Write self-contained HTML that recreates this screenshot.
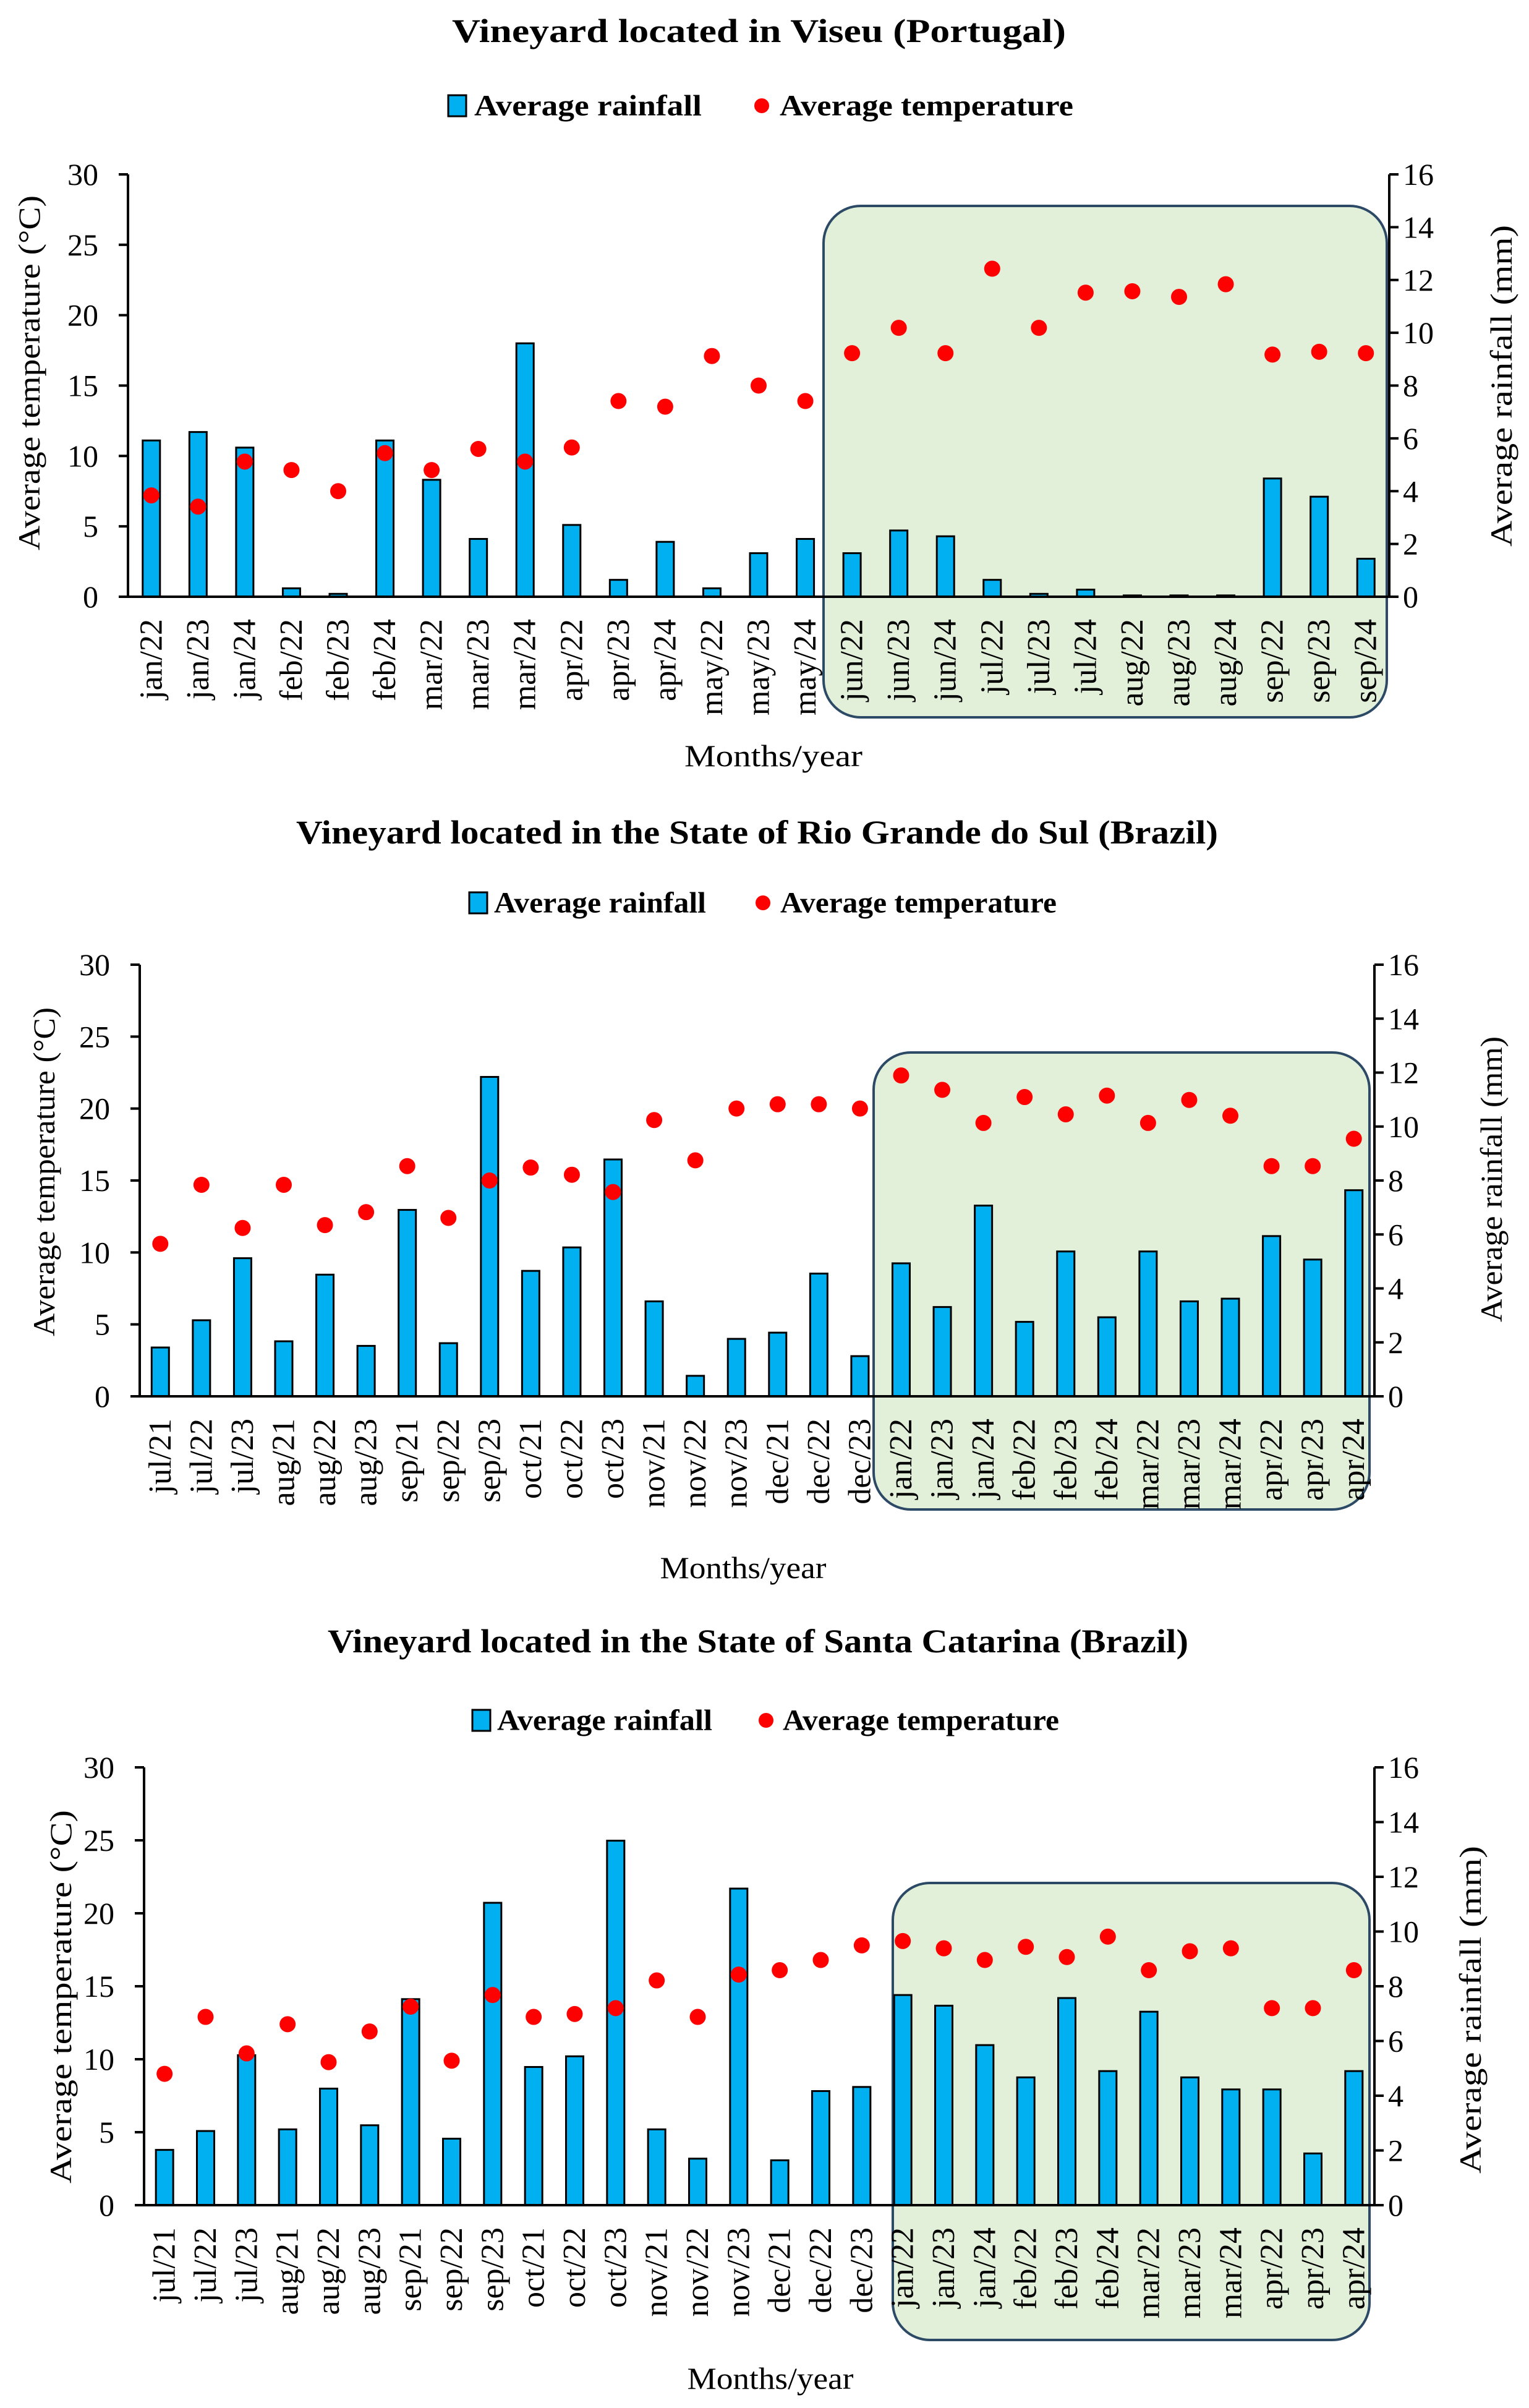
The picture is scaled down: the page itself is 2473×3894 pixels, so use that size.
<!DOCTYPE html>
<html><head><meta charset="utf-8"><style>
html,body{margin:0;padding:0;background:#fff;}
svg{display:block;font-family:"Liberation Serif",serif;}
</style></head>
<body>
<svg id="fig" width="2473" height="3894" viewBox="0 0 2473 3894" xmlns="http://www.w3.org/2000/svg"></svg>
<script>
// ---- Chart 1: Viseu (Portugal) ----
const cats1 = ["jan/22","jan/23","jan/24","feb/22","feb/23","feb/24","mar/22","mar/23","mar/24","apr/22","apr/23","apr/24","may/22","may/23","may/24","jun/22","jun/23","jun/24","jul/22","jul/23","jul/24","aug/22","aug/23","aug/24","sep/22","sep/23","sep/24"];
const rain1 = [5.92,6.24,5.65,0.32,0.11,5.92,4.43,2.19,9.6,2.72,0.64,2.08,0.32,1.65,2.19,1.65,2.51,2.29,0.64,0.11,0.27,0.05,0.05,0.05,4.48,3.79,1.44];
const temp1 = [7.2,6.4,9.6,9.0,7.5,10.2,9.0,10.5,9.6,10.6,13.9,13.5,17.1,15.0,13.9,17.3,19.1,17.3,23.3,19.1,21.6,21.7,21.3,22.2,17.2,17.4,17.3];
// ---- Chart 2: Rio Grande do Sul (Brazil) ----
const cats2 = ["jul/21","jul/22","jul/23","aug/21","aug/22","aug/23","sep/21","sep/22","sep/23","oct/21","oct/22","oct/23","nov/21","nov/22","nov/23","dec/21","dec/22","dec/23","jan/22","jan/23","jan/24","feb/22","feb/23","feb/24","mar/22","mar/23","mar/24","apr/22","apr/23","apr/24"];
const rain2 = [1.81,2.82,5.12,2.04,4.51,1.87,6.91,1.97,11.84,4.65,5.52,8.78,3.52,0.76,2.13,2.36,4.55,1.49,4.93,3.31,7.07,2.76,5.37,2.93,5.37,3.52,3.62,5.94,5.07,7.64];
const temp2 = [10.6,14.7,11.7,14.7,11.9,12.8,16.0,12.4,15.0,15.9,15.4,14.2,19.2,16.4,20.0,20.3,20.3,20.0,22.3,21.3,19.0,20.8,19.6,20.9,19.0,20.6,19.5,16.0,16.0,17.9];
// ---- Chart 3: Santa Catarina (Brazil) ----
const cats3 = ["jul/21","jul/22","jul/23","aug/21","aug/22","aug/23","sep/21","sep/22","sep/23","oct/21","oct/22","oct/23","nov/21","nov/22","nov/23","dec/21","dec/22","dec/23","jan/22","jan/23","jan/24","feb/22","feb/23","feb/24","mar/22","mar/23","mar/24","apr/22","apr/23","apr/24"];
const rain3 = [2.02,2.71,5.48,2.77,4.26,2.92,7.53,2.43,11.05,5.05,5.44,13.32,2.77,1.70,11.57,1.64,4.17,4.32,7.68,7.29,5.85,4.67,7.57,4.90,7.07,4.67,4.23,4.23,1.89,4.90];
const temp3 = [9.0,12.9,10.4,12.4,9.8,11.9,13.6,9.9,14.4,12.9,13.1,13.5,15.4,12.9,15.8,16.1,16.8,17.8,18.1,17.6,16.8,17.7,17.0,18.4,16.1,17.4,17.6,13.5,13.5,16.1];
const tempTicks = [0,5,10,15,20,25,30];
const rainTicks = [0,2,4,6,8,10,12,14,16];

const NS = "http://www.w3.org/2000/svg";
const fig = document.getElementById('fig');
function mk(parent, tag, attrs, txt){
  const e = document.createElementNS(NS, tag);
  for (const k in attrs) e.setAttribute(k, attrs[k]);
  if (txt !== undefined) e.textContent = txt;
  parent.appendChild(e);
  return e;
}

const layouts = [
  {key:'viseu', title:"Vineyard located in Viseu (Portugal)", titleY:50, titleX0:731, titleX1:1724,
   legY:171, sq:725, lt1:767, lt1w:368, dot:1232, lt2:1261, lt2w:475,
   L:207, R:2247, y0:965, y30:282, box:[1332,333,2243,1160],
   xtY:1222, xtX:1251, xtW:288, lyt:[47,603,574], ryt:[2428,624,520]},
  {key:'rio-grande', title:"Vineyard located in the State of Rio Grande do Sul (Brazil)", titleY:1346, titleX0:479, titleX1:1970,
   legY:1460, sq:759, lt1:799, lt1w:343, dot:1234, lt2:1262, lt2w:447,
   L:226, R:2223, y0:2258, y30:1560, box:[1413,1702,2215,2441],
   xtY:2535, xtX:1202, xtW:269, lyt:[71,1895,532], ryt:[2412,1907,462]},
  {key:'santa-catarina', title:"Vineyard located in the State of Santa Catarina (Brazil)", titleY:2654, titleX0:530, titleX1:1922,
   legY:2782, sq:764, lt1:804, lt1w:348, dot:1239, lt2:1266, lt2w:447,
   L:233, R:2223, y0:3566, y30:2858, box:[1444,3045,2215,3784],
   xtY:3846, xtX:1246, xtW:269, lyt:[98,3229,604], ryt:[2378,3250,530]}
];
const datasets = [[cats1,rain1,temp1],[cats2,rain2,temp2],[cats3,rain3,temp3]];

layouts.forEach((c, ci) => {
  const [cats, rain, temp] = datasets[ci];
  const g = mk(fig, 'g', {});
  
  
  const n = cats.length;
  const bw = (c.R - c.L) / n;
  const xC = i => c.L + (i + 0.5) * bw;
  const yT = v => c.y0 - (v / 30) * (c.y0 - c.y30);
  const yR = v => c.y0 - (v / 16) * (c.y0 - c.y30);

  // title
  const t = mk(g, 'text', {x:c.titleX0, y:c.titleY, 'font-size':54, 'font-weight':'bold', 'dominant-baseline':'central', textLength:c.titleX1-c.titleX0, lengthAdjust:'spacingAndGlyphs'}, c.title);
  
  

  // legend
  const lg = mk(g, 'g', {});
  
  
  const ls = mk(lg, 'rect', {x:c.sq, y:c.legY-17, width:29, height:34, fill:'#00b0f0', stroke:'#000', 'stroke-width':3});
  
  
  const lt1 = mk(lg, 'text', {x:c.lt1, y:c.legY, 'font-size':48, 'font-weight':'bold', 'dominant-baseline':'central', textLength:c.lt1w, lengthAdjust:'spacingAndGlyphs'}, 'Average rainfall');
  
  
  const ld = mk(lg, 'circle', {cx:c.dot, cy:c.legY, r:12, fill:'#ff0000'});
  
  
  const lt2 = mk(lg, 'text', {x:c.lt2, y:c.legY, 'font-size':48, 'font-weight':'bold', 'dominant-baseline':'central', textLength:c.lt2w, lengthAdjust:'spacingAndGlyphs'}, 'Average temperature');
  
  

  // highlight box
  const b = c.box;
  const bx = mk(g, 'rect', {x:b[0], y:b[1], width:b[2]-b[0], height:b[3]-b[1], rx:60, ry:60, fill:'#e2efd9', stroke:'#2c4a66', 'stroke-width':4});
  
  

  // bars
  rain.forEach((v, i) => {
    const top = yR(v);
    const r = mk(g, 'rect', {x:xC(i)-14, y:top, width:28, height:Math.max(c.y0-top,0.5), fill:'#00b0f0', stroke:'#000', 'stroke-width':3});
    
    
  });

  // axes
  const ax = mk(g, 'g', {stroke:'#000', 'stroke-width':4, fill:'none'});
  
  
  mk(ax, 'line', {x1:c.L, y1:c.y30, x2:c.L, y2:c.y0});
  mk(ax, 'line', {x1:c.R, y1:c.y30, x2:c.R, y2:c.y0});
  mk(ax, 'line', {x1:c.L-15, y1:c.y0, x2:c.R+15, y2:c.y0});
  tempTicks.forEach(v => {
    mk(ax, 'line', {x1:c.L-15, y1:yT(v), x2:c.L, y2:yT(v)});
    const tl = mk(g, 'text', {x:c.L-48, y:yT(v), 'font-size':50, 'text-anchor':'end', 'dominant-baseline':'central'}, String(v));
    
    
  });
  rainTicks.forEach(v => {
    mk(ax, 'line', {x1:c.R, y1:yR(v), x2:c.R+15, y2:yR(v)});
    const tl = mk(g, 'text', {x:c.R+22, y:yR(v), 'font-size':50, 'dominant-baseline':'central'}, String(v));
    
    
  });

  // x labels
  cats.forEach((s, i) => {
    const x = xC(i), y = c.y0 + 36;
    const tl = mk(g, 'text', {x:x, y:y, 'font-size':52, 'text-anchor':'end', 'dominant-baseline':'central', transform:'rotate(-90 '+x+' '+y+')'}, s);
    
    
  });

  // temperature dots
  temp.forEach((v, i) => {
    const d = mk(g, 'circle', {cx:xC(i), cy:yT(v), r:13, fill:'#ff0000'});
    
    
  });

  // axis titles
  const xt = mk(g, 'text', {x:c.xtX, y:c.xtY, 'font-size':50, 'text-anchor':'middle', 'dominant-baseline':'central', textLength:c.xtW, lengthAdjust:'spacingAndGlyphs'}, 'Months/year');
  
  
  const ly = c.lyt;
  const yl = mk(g, 'text', {x:ly[0], y:ly[1], 'font-size':50, 'text-anchor':'middle', 'dominant-baseline':'central', textLength:ly[2], lengthAdjust:'spacingAndGlyphs', transform:'rotate(-90 '+ly[0]+' '+ly[1]+')'}, 'Average temperature (°C)');
  
  
  const ry = c.ryt;
  const yr = mk(g, 'text', {x:ry[0], y:ry[1], 'font-size':50, 'text-anchor':'middle', 'dominant-baseline':'central', textLength:ry[2], lengthAdjust:'spacingAndGlyphs', transform:'rotate(-90 '+ry[0]+' '+ry[1]+')'}, 'Average rainfall (mm)');
  
  
});
</script>
</body></html>
